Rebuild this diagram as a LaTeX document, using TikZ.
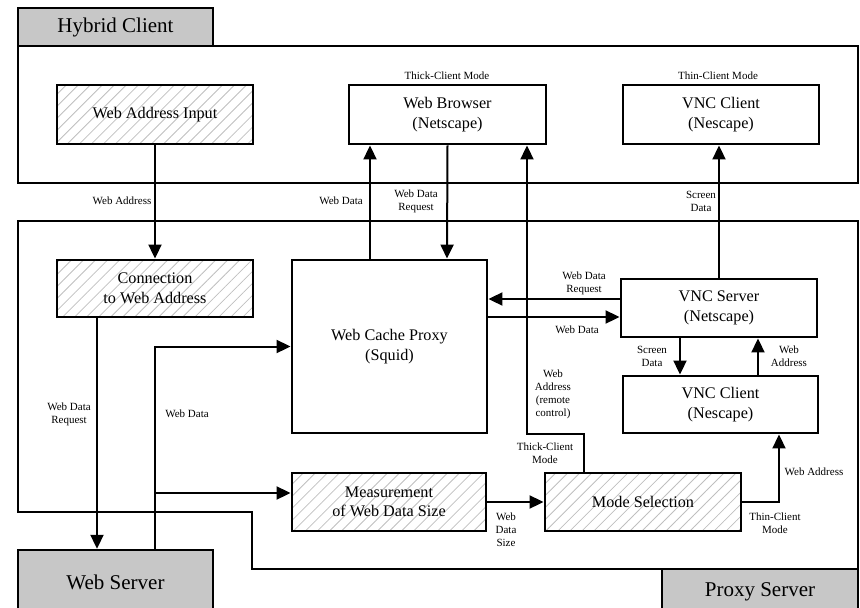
\documentclass[tikz,border=0pt]{standalone}
\usepackage{fontspec}
\setmainfont{Liberation Serif}
\usetikzlibrary{arrows.meta,patterns.meta}
\begin{document}
\begin{tikzpicture}[x=1pt,y=-1pt,
  box/.style={draw, line width=2.9pt, align=center, inner sep=0pt,
    font=\fontsize{16.2}{19.5}\selectfont},
  hatch/.style={box, pattern={Lines[angle=45,distance=8.5pt,line width=0.8pt]}, pattern color=black!25},
  tab/.style={draw, line width=2.4pt, fill=black!22, inner sep=0pt,
    font=\fontsize{21}{24}\selectfont},
  frame/.style={draw, line width=2.4pt},
  arr/.style={line width=2pt, -{Triangle[length=14pt,width=13pt]}},
  lbl/.style={align=center, inner sep=0pt, font=\fontsize{11}{13}\selectfont}]
\useasboundingbox (0,0) rectangle (860,608);
\clip (0,0) rectangle (860,608);
% containers
\draw[frame] (18,46) rectangle (858,183);
\node[tab, minimum width=195pt, minimum height=38pt] (hc) at (115.5,27) {Hybrid Client};
\draw[frame] (18,221) -- (858,221) -- (858,569) -- (252,569) -- (252,512) -- (18,512) -- cycle;
\node[tab, minimum width=196pt, minimum height=45pt] (ps) at (760,591.5) {Proxy Server};
\node[tab, minimum width=195pt, minimum height=64pt] (ws) at (115.5,582) {Web Server};
% boxes
\node[hatch, minimum width=196pt, minimum height=59pt] (wai) at (155,114.5) {Web Address Input};
\node[box, minimum width=197pt, minimum height=59pt] (wb) at (447.5,114.5) {Web Browser\\(Netscape)};
\node[box, minimum width=196pt, minimum height=59pt] (vct) at (721,114.5) {VNC Client\\(Nescape)};
\node[hatch, minimum width=196pt, minimum height=57pt] (conn) at (155,288.5) {Connection\\to Web Address};
\node[box, minimum width=195pt, minimum height=173pt] (wcp) at (389.5,346.5) {Web Cache Proxy\\(Squid)};
\node[box, minimum width=196pt, minimum height=58pt] (vs) at (719,308) {VNC Server\\(Netscape)};
\node[box, minimum width=195pt, minimum height=57pt] (vcp) at (720.5,404.5) {VNC Client\\(Nescape)};
\node[hatch, minimum width=194pt, minimum height=58pt] (meas) at (389,502) {Measurement\\of Web Data Size};
\node[hatch, minimum width=196pt, minimum height=58pt] (mode) at (643,502) {Mode Selection};
% helper coordinates
\coordinate (wsdat) at ([xshift=39.5pt]ws.north);
\coordinate (connreq) at ([xshift=-58pt]conn.south);
\coordinate (measin) at ([yshift=9pt]meas.west);
\coordinate (wcpup) at ([xshift=-19.5pt]wcp.north);
\coordinate (wbdat) at ([xshift=-77.5pt]wb.south);
\coordinate (wcpreq) at ([xshift=-0.5pt]wb.south |- wcp.north);
\coordinate (vsreq) at ([yshift=9pt]vs.west);
\coordinate (vsdat) at ([yshift=-9pt]vs.west);
\coordinate (vsscr) at ([xshift=-39pt]vs.south);
\coordinate (vcpadr) at ([xshift=37.5pt]vcp.north);
\coordinate (modeup) at ([xshift=-59pt]mode.north);
\coordinate (wbrc) at ([xshift=79.5pt]wb.south);
\coordinate (vcpin) at ([xshift=58.5pt]vcp.south);
% connectors
\draw[arr] (wai.south) -- (conn.north);
\draw[arr] (connreq) -- (connreq |- ws.north);
\draw[arr] (wsdat) |- (wcp.west);
\draw[arr] (measin -| wsdat) -- (measin);
\draw[arr] (wcpup) -- (wbdat);
\draw[arr] (wb.south) -- (wcpreq);
\draw[arr] (vsreq) -- (vsreq -| wcp.east);
\draw[arr] (vsdat -| wcp.east) -- (vsdat);
\draw[arr] (vs.north) -- (vs.north |- vct.south);
\draw[arr] (vsscr) -- (vsscr |- vcp.north);
\draw[arr] (vcpadr) -- (vcpadr |- vs.south);
\draw[arr] (modeup) |- (wbrc |- wcp.south) -- (wbrc);
\draw[arr] (meas.east) -- (mode.west);
\draw[arr] (mode.east) -| (vcpin);
% labels
\node[lbl] (l1) at (447,76) {Thick-Client Mode};
\node[lbl] (l2) at (718,76) {Thin-Client Mode};
\node[lbl] (l3) at (122,201) {Web Address};
\node[lbl] (l4) at (341,201) {Web Data};
\node[lbl] (l5) at (416,201) {Web Data\\Request};
\node[lbl] (l6) at (701,201) {Screen\\Data};
\node[lbl] (l7) at (584,283) {Web Data\\Request};
\node[lbl] (l8) at (577,330) {Web Data};
\node[lbl] (l9) at (652,356) {Screen\\Data};
\node[lbl] (l10) at (789,356) {Web\\Address};
\node[lbl] (l11) at (553,394) {Web\\Address\\(remote\\control)};
\node[lbl] (l12) at (545,453) {Thick-Client\\Mode};
\node[lbl] (l13) at (69,414) {Web Data\\Request};
\node[lbl] (l14) at (187,414) {Web Data};
\node[lbl] (l15) at (506,530) {Web\\Data\\Size};
\node[lbl] (l16) at (814,472) {Web Address};
\node[lbl] (l17) at (775,523) {Thin-Client\\Mode};
\end{tikzpicture}
\end{document}
